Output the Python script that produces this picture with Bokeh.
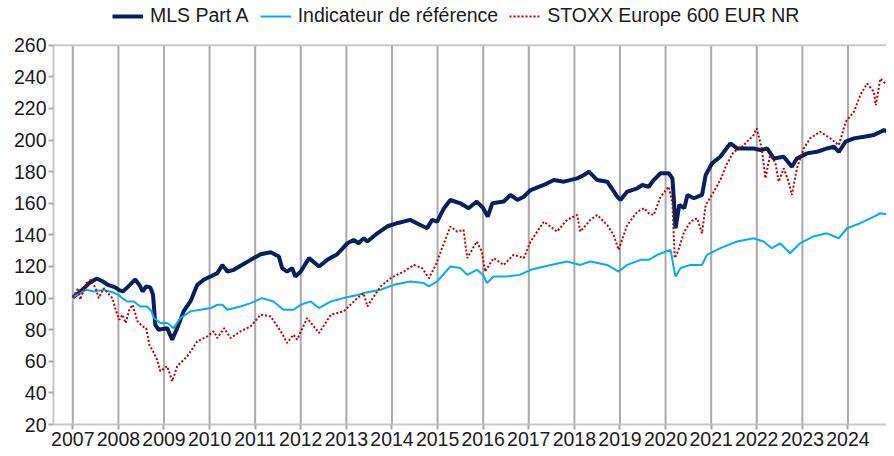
from bokeh.plotting import figure
from bokeh.models import Range1d, FixedTicker, Legend, LegendItem, Span
from bokeh.embed import file_html
from bokeh.resources import INLINE

years = list(range(2007, 2025))
y_ticks = list(range(20, 261, 20))

mls_t = [2007.00, 2007.17, 2007.36, 2007.53, 2007.66, 2007.77, 2007.92, 2008.02, 2008.10, 2008.22,
         2008.37, 2008.48, 2008.53, 2008.61, 2008.70, 2008.76, 2008.81, 2008.88, 2009.07, 2009.18,
         2009.29, 2009.43, 2009.58, 2009.73, 2009.87, 2010.02, 2010.17, 2010.28, 2010.39, 2010.53,
         2010.71, 2010.90, 2011.12, 2011.34, 2011.52, 2011.59, 2011.70, 2011.81, 2011.88, 2012.00,
         2012.18, 2012.40, 2012.58, 2012.80, 2013.02, 2013.16, 2013.27, 2013.38, 2013.46, 2013.68,
         2013.89, 2014.11, 2014.40, 2014.62, 2014.77, 2014.88, 2014.99, 2015.14, 2015.28, 2015.50,
         2015.68, 2015.86, 2016.00, 2016.10, 2016.20, 2016.45, 2016.60, 2016.75, 2016.89, 2017.04,
         2017.33, 2017.55, 2017.77, 2018.06, 2018.21, 2018.32, 2018.50, 2018.72, 2018.94, 2019.01,
         2019.16, 2019.38, 2019.49, 2019.63, 2019.74, 2019.89, 2020.07, 2020.15, 2020.18, 2020.22,
         2020.30, 2020.41, 2020.48, 2020.62, 2020.80, 2020.88, 2021.02, 2021.20, 2021.42, 2021.57,
         2021.79, 2021.93, 2022.08, 2022.23, 2022.37, 2022.59, 2022.77, 2022.88, 2023.10, 2023.32,
         2023.54, 2023.69, 2023.80, 2023.95, 2024.13, 2024.35, 2024.57, 2024.79, 2024.93, 2025.00]
mls_v = [100.4, 104.2, 109.5, 112.4, 110.5, 108.4, 107.0, 105.0, 104.2, 107.4,
         111.8, 107.4, 104.2, 107.4, 106.8, 102.1, 83.1, 80.0, 81.0, 73.7,
         81.0, 91.6, 97.9, 108.4, 111.6, 113.7, 115.8, 121.0, 116.8, 117.9,
         121.0, 124.2, 127.8, 129.0, 126.3, 119.0, 116.8, 119.0, 113.7, 116.8,
         125.3, 120.0, 124.2, 127.8, 134.7, 136.8, 134.7, 137.9, 135.8, 141.0,
         145.3, 147.4, 149.5, 146.3, 144.2, 149.5, 148.4, 156.9, 162.1, 160.0,
         156.9, 161.1, 156.9, 151.6, 160.0, 161.1, 165.3, 162.1, 164.2, 168.4,
         171.6, 174.7, 173.7, 175.8, 177.9, 180.0, 174.7, 173.7, 164.2, 162.1,
         167.4, 169.5, 171.6, 170.5, 174.7, 179.0, 179.0, 175.8, 163.2, 144.2,
         159.0, 156.9, 165.3, 163.2, 165.3, 177.9, 185.3, 189.5, 197.9, 194.7,
         194.7, 194.7, 193.7, 194.7, 188.4, 189.5, 183.2, 188.4, 191.6, 192.6,
         194.7, 195.8, 192.6, 199.0, 201.1, 202.1, 203.2, 206.3, 204.2, 205.3]

ref_t = [2007.00, 2007.17, 2007.30, 2007.46, 2007.68, 2007.80, 2007.90, 2008.00, 2008.08, 2008.19,
         2008.34, 2008.48, 2008.63, 2008.72, 2008.78, 2008.92, 2009.07, 2009.21, 2009.36, 2009.58,
         2009.80, 2010.02, 2010.17, 2010.28, 2010.39, 2010.68, 2010.90, 2011.15, 2011.40, 2011.62,
         2011.84, 2012.00, 2012.21, 2012.40, 2012.66, 2012.94, 2013.27, 2013.38, 2013.75, 2014.04,
         2014.40, 2014.70, 2014.81, 2014.99, 2015.28, 2015.50, 2015.65, 2015.86, 2016.00, 2016.08,
         2016.23, 2016.52, 2016.80, 2017.04, 2017.48, 2017.84, 2018.13, 2018.35, 2018.72, 2018.97,
         2019.16, 2019.45, 2019.63, 2019.82, 2020.11, 2020.18, 2020.22, 2020.33, 2020.55, 2020.80,
         2020.91, 2021.20, 2021.57, 2021.93, 2022.15, 2022.33, 2022.51, 2022.73, 2022.95, 2023.24,
         2023.54, 2023.80, 2023.98, 2024.27, 2024.57, 2024.71, 2024.93, 2025.00]
ref_v = [100.4, 103.2, 105.3, 104.2, 105.3, 104.2, 103.5, 102.1, 100.0, 97.9,
         97.9, 94.7, 94.7, 92.0, 87.4, 84.2, 84.2, 81.0, 87.4, 91.6,
         92.6, 93.7, 95.8, 95.8, 92.6, 94.7, 96.8, 100.0, 97.9, 92.6,
         92.6, 95.8, 97.9, 93.7, 97.9, 100.0, 102.1, 103.2, 105.3, 108.4,
         110.5, 109.5, 107.4, 110.5, 120.0, 119.0, 114.7, 117.9, 114.7, 109.5,
         113.7, 113.7, 114.7, 117.9, 121.0, 123.2, 121.0, 123.2, 121.0, 116.8,
         121.0, 124.2, 124.2, 127.4, 130.5, 119.0, 113.7, 119.0, 121.0, 121.0,
         127.4, 131.6, 135.8, 137.9, 135.8, 131.6, 134.7, 128.4, 134.7, 139.0,
         141.0, 137.9, 144.2, 147.4, 151.6, 153.7, 152.6, 152.0]

stoxx_t = [2007.00, 2007.12, 2007.16, 2007.30, 2007.39, 2007.50, 2007.57, 2007.68, 2007.80, 2007.87,
           2007.94, 2008.02, 2008.09, 2008.16, 2008.24, 2008.31, 2008.42, 2008.53, 2008.61, 2008.68,
           2008.76, 2008.85, 2008.92, 2009.07, 2009.18, 2009.29, 2009.51, 2009.73, 2009.95, 2010.09,
           2010.17, 2010.32, 2010.46, 2010.68, 2010.90, 2011.12, 2011.34, 2011.56, 2011.70, 2011.84,
           2011.92, 2012.14, 2012.40, 2012.66, 2012.94, 2013.24, 2013.38, 2013.46, 2013.75, 2013.97,
           2014.26, 2014.48, 2014.66, 2014.81, 2014.96, 2015.07, 2015.28, 2015.43, 2015.57, 2015.65,
           2015.86, 2015.97, 2016.04, 2016.23, 2016.45, 2016.67, 2016.89, 2017.04, 2017.33, 2017.62,
           2017.84, 2018.06, 2018.13, 2018.35, 2018.50, 2018.72, 2018.86, 2018.97, 2019.16, 2019.38,
           2019.53, 2019.63, 2019.74, 2019.89, 2020.07, 2020.15, 2020.20, 2020.27, 2020.41, 2020.55,
           2020.69, 2020.80, 2020.88, 2021.02, 2021.20, 2021.35, 2021.49, 2021.64, 2021.79, 2021.93,
           2022.00, 2022.11, 2022.19, 2022.30, 2022.41, 2022.48, 2022.59, 2022.70, 2022.77, 2022.88,
           2023.03, 2023.17, 2023.39, 2023.61, 2023.80, 2023.95, 2024.13, 2024.27, 2024.42, 2024.57,
           2024.61, 2024.71, 2024.86, 2024.97]
stoxx_v = [100.4, 106.3, 99.0, 109.5, 111.6, 106.3, 100.0, 106.3, 102.1, 100.0,
           92.6, 86.3, 89.5, 84.2, 92.6, 95.8, 85.3, 82.1, 81.0, 70.5,
           66.3, 61.0, 53.7, 56.9, 47.4, 56.9, 63.2, 72.6, 75.8, 79.0,
           74.7, 81.0, 74.7, 79.0, 82.1, 89.5, 88.4, 79.0, 71.6, 76.8,
           73.7, 87.4, 77.9, 89.5, 91.6, 100.0, 103.0, 94.7, 107.4, 112.6,
           116.8, 121.0, 119.0, 112.6, 121.0, 129.5, 145.3, 142.1, 143.2, 125.3,
           135.8, 129.5, 116.8, 125.3, 121.0, 127.4, 125.3, 135.8, 148.4, 142.1,
           149.5, 152.6, 142.1, 149.5, 152.6, 146.3, 140.0, 130.5, 146.3, 154.7,
           156.9, 153.7, 152.6, 164.2, 170.5, 160.0, 125.3, 129.5, 142.1, 148.4,
           150.5, 141.0, 159.0, 165.3, 174.7, 185.3, 192.6, 194.7, 199.0, 203.2,
           207.4, 194.7, 175.8, 191.6, 185.3, 173.7, 182.1, 173.7, 165.3, 182.1,
           194.7, 201.1, 205.3, 201.1, 196.8, 211.6, 217.9, 228.4, 235.8, 230.5,
           222.1, 238.9, 234.7, 232.6]

FONT = "Liberation Sans"
GRID = "#AAAAAA"
FRAME = "#C8C8C8"

# frame spans from the top of the figure so that the legend sits inside it;
# the value 260 falls 45 px below the top, 20 sits on the bottom axis
p = figure(width=886, height=448, output_backend="svg", toolbar_location=None,
           x_range=Range1d(2006.577, 2024.845), y_range=Range1d(20, 288.35),
           min_border_left=53, min_border_right=0, min_border_top=0, min_border_bottom=22)
p.background_fill_color = "white"
p.border_fill_color = "white"
p.outline_line_color = None

p.xgrid.visible = False
p.ygrid.visible = False
p.segment(x0=years, y0=[y_ticks[0]] * len(years), x1=years, y1=[y_ticks[-1]] * len(years),
          line_color=GRID, line_width=2)
p.add_layout(Span(location=y_ticks[-1], dimension="width", line_color=FRAME, line_width=2))

p.xaxis.ticker = FixedTicker(ticks=years)
p.yaxis.ticker = FixedTicker(ticks=y_ticks)
p.yaxis.bounds = (y_ticks[0], y_ticks[-1])
for ax in (p.xaxis, p.yaxis):
    ax.axis_line_color = FRAME
    ax.axis_line_width = 2
    ax.major_tick_line_color = GRID
    ax.major_tick_line_width = 2
    ax.major_tick_in = 0
    ax.major_tick_out = 5
    ax.minor_tick_line_color = None
    ax.major_label_text_font = FONT
    ax.major_label_text_font_size = "19.5px"
    ax.major_label_text_color = "#1A1A1A"
    ax.major_label_standoff = 2

r_mls = p.line(mls_t, mls_v, line_color="#002060", line_width=4)
r_ref = p.line(ref_t, ref_v, line_color="#00B0F0", line_width=2)
r_stx = p.line(stoxx_t, stoxx_v, line_color="#C00000", line_width=2, line_dash="2 2")

legend = Legend(items=[LegendItem(label="MLS Part A", renderers=[r_mls]),
                       LegendItem(label="Indicateur de référence", renderers=[r_ref]),
                       LegendItem(label="STOXX Europe 600 EUR NR", renderers=[r_stx])],
                orientation="horizontal", location=(59, 397))
legend.label_text_font = FONT
legend.label_text_font_size = "19.5px"
legend.label_text_color = "#1A1A1A"
legend.glyph_width = 31
legend.glyph_height = 20
legend.label_height = 20
legend.label_standoff = 7
legend.spacing = 11
legend.padding = 0
legend.margin = 0
legend.border_line_color = None
legend.background_fill_alpha = 0
p.add_layout(legend)

open("out.html", "w").write(file_html(p, INLINE))
